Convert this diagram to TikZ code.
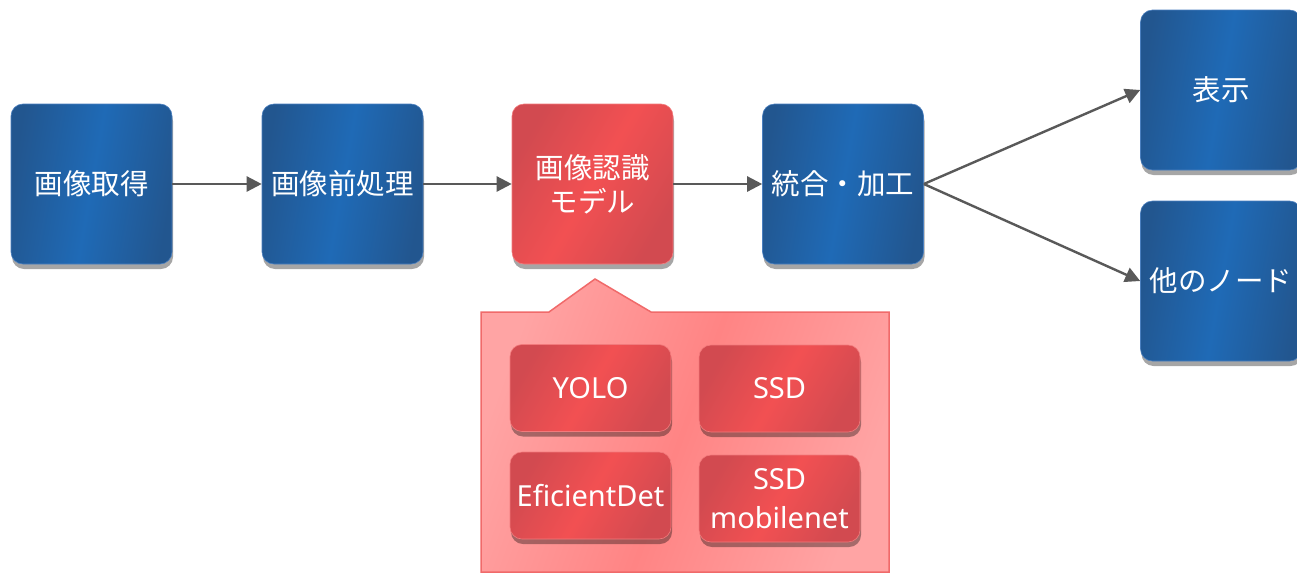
\documentclass[tikz,border=0pt]{standalone}
\usepackage{fontspec}
\setmainfont{Noto Sans}
\newfontfamily\jp{Noto Sans CJK JP}
\usetikzlibrary{arrows.meta,shadows,positioning}
\definecolor{bdark}{HTML}{22568F}
\definecolor{blight}{HTML}{1F6AB6}
\definecolor{bedge}{HTML}{4A7FBF}
\definecolor{rdark}{HTML}{D24A50}
\definecolor{rlight}{HTML}{F25052}
\definecolor{redge}{HTML}{F27A7C}
\definecolor{cfill1}{HTML}{FFA4A4}
\definecolor{cfill2}{HTML}{FF8484}
\definecolor{cedge}{HTML}{F06A6A}
\definecolor{arr}{HTML}{595959}
\tikzset{
  bluebox/.style={rounded corners=12pt, minimum width=161pt, minimum height=160pt,
    shading=axis, left color=bdark, right color=bdark, middle color=blight, shading angle=80,
    draw=bedge, line width=0.6pt, text=white, align=center, font=\jp\fontsize{28.5}{34}\selectfont,
    drop shadow={shadow xshift=1pt, shadow yshift=-5pt, opacity=0.35, fill=black}, inner sep=0pt},
  redbox/.style={bluebox, left color=rdark, right color=rdark, middle color=rlight, draw=redge, shading angle=60},
  modelbox/.style={redbox, minimum width=161pt, minimum height=87pt, font=\fontsize{29}{39}\selectfont},
  flow/.style={draw=arr, line width=2.4pt, -{Triangle[length=15pt,width=15pt]}},
}
\begin{document}
\begin{tikzpicture}[x=1pt,y=-1pt]
\useasboundingbox (0,0) rectangle (1297,573);
\fill[white] (0,0) rectangle (1297,573);
% callout
\draw[cedge, line width=1.5pt, shading=axis, left color=cfill1, right color=cfill1, middle color=cfill2, shading angle=70]
  (481,312) -- (549,312) -- (595,279) -- (651,312) -- (889,312) -- (889,572) -- (481,572) -- cycle;
% main flow
\node[bluebox] (acq) at (91.5,184) {画像取得};
\node[bluebox] (pre) at (342.5,184) {画像前処理};
\node[redbox]  (rec) at (592.5,184) {画像認識\\モデル};
\node[bluebox] (mix) at (843,184) {統合・加工};
\node[bluebox] (disp) at (1221,90) {表示};
\node[bluebox] (other) at (1221,281) {他のノード};
% models
\node[modelbox] (yolo) at (590.5,388) {YOLO};
\node[modelbox] (ssd) at (779.5,388.5) {SSD};
\node[modelbox] (eff) at (590.5,495.5) {EficientDet};
\node[modelbox] (ssdm) at (779.5,498.5) {SSD\\mobilenet};
% connectors
\draw[flow] (acq.east) -- (pre.west);
\draw[flow] (pre.east) -- (rec.west);
\draw[flow] (rec.east) -- (mix.west);
\draw[flow] (mix.east) -- (disp.west);
\draw[flow] (mix.east) -- (other.west);
\end{tikzpicture}
\end{document}
